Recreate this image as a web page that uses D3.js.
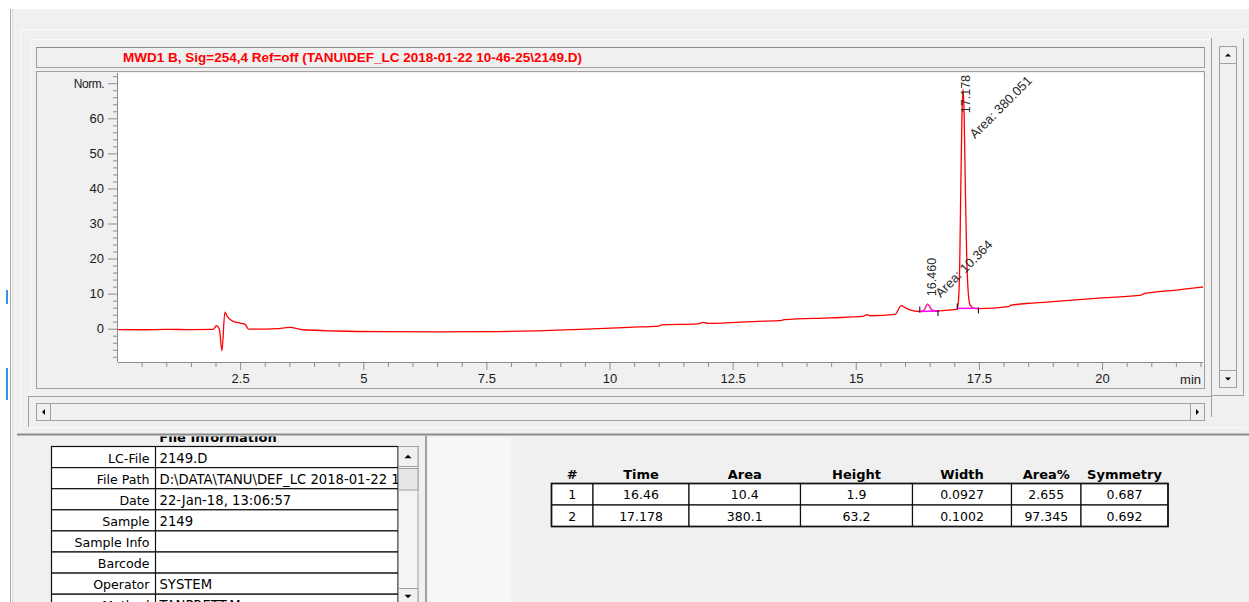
<!DOCTYPE html>
<html><head><meta charset="utf-8">
<script src="https://cdn.jsdelivr.net/npm/d3@7"></script>
<style>html,body{margin:0;padding:0;background:#fff;overflow:hidden}</style>
</head><body><svg id="c" width="1249" height="602"></svg>
<script>
// ---------------- DATA ----------------
const chartTitle = "MWD1 B, Sig=254,4 Ref=off (TANU\\DEF_LC 2018-01-22 10-46-25\\2149.D)";
// retention time (min) and signal (Norm.)
const timeMin = [0.02,0.5,1.0,1.5,1.95,2.02,2.08,2.13,2.19,2.24,2.29,2.36,2.43,2.52,2.60,2.67,3.0,3.24,3.51,3.78,4.46,5.34,6.5,7.5,8.5,9.4,10.4,11.0,11.05,11.8,11.9,12.0,13.0,13.5,13.55,14.5,15.15,15.22,15.3,15.8,15.92,16.0,16.1,16.3,16.38,16.46,16.55,16.67,16.9,17.06,17.09,17.11,17.13,17.155,17.178,17.20,17.225,17.25,17.28,17.32,17.4,17.5,18.1,18.15,19.0,20.0,20.8,20.85,21.5,22.05];
const signal  = [-0.25,-0.3,-0.2,-0.25,-0.2,0.85,-0.3,-6.3,4.7,3.5,2.7,2.1,1.8,1.5,1.25,-0.1,-0.1,0.0,0.4,-0.3,-0.65,-0.85,-0.9,-0.85,-0.6,-0.2,0.4,0.75,1.1,1.4,1.8,1.5,2.1,2.4,2.6,3.1,3.5,4.0,3.7,4.1,6.6,6.0,5.4,4.9,5.2,7.0,5.3,5.05,5.3,5.6,9,18,38,60,68.3,61,40,22,11,6.8,5.8,5.7,6.3,6.7,7.7,8.8,9.6,10.0,11.0,11.9];
// integrated peaks
const peakRT      = [16.460, 17.178];
const peakApex    = [7.0, 68.3];
const peakAreaTxt = ["10.364", "380.051"];
const intStartT   = [16.30, 17.06];
const intStartV   = [4.9, 5.8];
const intEndT     = [16.67, 17.49];
const intEndV     = [5.05, 5.8];
// axes
const xMajorTicks = [2.5, 5, 7.5, 10, 12.5, 15, 17.5, 20];
const yMajorTicks = [0, 10, 20, 30, 40, 50, 60, 70];
const yTopLabel = "Norm.";
const xUnitLabel = "min";
// file information
const infoLabels = ["LC-File","File Path","Date","Sample","Sample Info","Barcode","Operator","Method"];
const infoValues = ["2149.D","D:\\DATA\\TANU\\DEF_LC 2018-01-22 10-46-25","22-Jan-18, 13:06:57","2149","","","SYSTEM","TANPRETT.M"];
// peak table
const resHeaders  = ["#","Time","Area","Height","Width","Area%","Symmetry"];
const resNum      = ["1","2"];
const resTime     = ["16.46","17.178"];
const resArea     = ["10.4","380.1"];
const resHeight   = ["1.9","63.2"];
const resWidth    = ["0.0927","0.1002"];
const resAreaPct  = ["2.655","97.345"];
const resSym      = ["0.687","0.692"];

// ---------------- DRAW ----------------
const svg = d3.select("#c");
const G = "#a0a0a0";
function rect(x,y,w,h,fill,stroke,sw){return svg.append("rect").attr("x",x).attr("y",y).attr("width",w).attr("height",h)
  .attr("fill",fill||"none").attr("stroke",stroke||"none").attr("stroke-width",sw||1);}
function line(x1,y1,x2,y2,stroke,sw){return svg.append("line").attr("x1",x1).attr("y1",y1).attr("x2",x2).attr("y2",y2)
  .attr("stroke",stroke).attr("stroke-width",sw||1);}
function tri(cx,cy,dir,s){s=s||3;let p;
  if(dir==="up")p=[[cx-s,cy+s/2],[cx+s,cy+s/2],[cx,cy-s/2]];
  else if(dir==="down")p=[[cx-s,cy-s/2],[cx+s,cy-s/2],[cx,cy+s/2]];
  else if(dir==="left")p=[[cx+s/2,cy-s],[cx+s/2,cy+s],[cx-s/2,cy]];
  else p=[[cx-s/2,cy-s],[cx-s/2,cy+s],[cx+s/2,cy]];
  svg.append("polygon").attr("points",p.map(d=>d.join(",")).join(" ")).attr("fill","#000");}

// window chrome
rect(12,9,1237,593,"#f0f0f0");
line(10.5,9,10.5,602,"#a8a8a8");
line(12.5,9,12.5,602,"#d8d8d8");
rect(6,368,2,32,"#3c8ee0");
rect(6,290,2,14,"#3c8ee0");
line(20,29.5,1246,29.5,"#fcfcfd"); line(20.5,29,20.5,428,"#fcfcfd");
line(30,39.5,1212,39.5,"#fafafa"); line(30.5,39,30.5,396,"#fafafa");
// title box
rect(36.5,47.5,1168,20,"#f0f0f0",G);
line(36.5,47.5,1204.5,47.5,"#8a8a8a");
svg.append("text").attr("x",123).attr("y",61.5).attr("font-family","Liberation Sans, Arial, sans-serif")
  .attr("font-weight","bold").attr("font-size",13.5).attr("fill","#ff0000")
  .attr("textLength",459).attr("lengthAdjust","spacingAndGlyphs").text(chartTitle);
// plot frame
rect(36.5,71.5,1168,317,"#f0f0f0",G);
const L=118,R=1203,T=73,B=362;
rect(L,T,R-L,B-T,"#ffffff");

const x = d3.scaleLinear().domain([0.02,22.05]).range([L,R]);
const y = d3.scaleLinear().domain([0,60]).range([328.7,118.3]);

// axes
const axisCol="#8c8c8c";
const fontAx="Liberation Sans, Arial, sans-serif";
const xMinor = d3.range(0.5,22.01,0.5).filter(v=>Math.abs(v/2.5-Math.round(v/2.5))>1e-6);
const yMinor = d3.range(-8,73,2).filter(v=>v%10!==0);
function styleAxis(g){g.selectAll("path,line").attr("stroke",axisCol);g.selectAll("text").attr("fill","#1a1a1a")
  .attr("font-family",fontAx).attr("font-size",13);}
svg.append("g").attr("transform",`translate(0,${B})`)
  .call(d3.axisBottom(x).tickValues(xMinor).tickSize(5).tickSizeOuter(0).tickFormat(""))
  .call(styleAxis).call(g=>g.select(".domain").remove());
svg.append("g").attr("transform",`translate(0,${B})`)
  .call(d3.axisBottom(x).tickValues(xMajorTicks).tickSize(8).tickSizeOuter(0).tickPadding(4).tickFormat(d=>String(d)))
  .call(styleAxis).call(g=>g.select(".domain").attr("d",`M${L},0.5H${R}`));
svg.append("g").attr("transform",`translate(${L},0)`)
  .call(d3.axisLeft(y).tickValues(yMinor).tickSize(5).tickSizeOuter(0).tickFormat(""))
  .call(styleAxis).call(g=>g.select(".domain").remove());
const yAx = svg.append("g").attr("transform",`translate(${L},0)`)
  .call(d3.axisLeft(y).tickValues(yMajorTicks).tickSize(10).tickSizeOuter(0).tickPadding(4).tickFormat(d=>d===70?yTopLabel:String(d)))
  .call(styleAxis).call(g=>g.select(".domain").attr("d",`M-0.5,${T}V${B}`));
yAx.selectAll(".tick text").filter(d=>d===70).attr("font-size",12).attr("letter-spacing",-0.5);
svg.append("text").attr("x",1201).attr("y",383.5).attr("text-anchor","end").attr("font-family",fontAx)
  .attr("font-size",13).attr("fill","#1a1a1a").text(xUnitLabel);

// trace
svg.append("clipPath").attr("id","pc").append("rect").attr("x",L).attr("y",T).attr("width",R-L).attr("height",B-T);
const pts = timeMin.map((t,i)=>[t,signal[i]]);
const lg = d3.line().x(d=>x(d[0])).y(d=>y(d[1])).curve(d3.curveMonotoneX);
const gp = svg.append("g").attr("clip-path","url(#pc)");
gp.append("path").attr("d",lg(pts)).attr("fill","none").attr("stroke","#ff0000").attr("stroke-width",1.3);
// first peak drawn in magenta (integrated)
gp.append("path").attr("d",lg(pts.filter(d=>d[0]>=intStartT[0]&&d[0]<=intEndT[0])))
  .attr("fill","none").attr("stroke","#ff33cc").attr("stroke-width",1.2);
// integration baselines + ticks
peakRT.forEach((rt,i)=>{
  gp.append("line").attr("x1",x(intStartT[i])).attr("y1",y(intStartV[i])).attr("x2",x(intEndT[i])).attr("y2",y(intEndV[i]))
    .attr("stroke","#ff00ff").attr("stroke-width",1.5);
  gp.append("line").attr("x1",x(intStartT[i])).attr("x2",x(intStartT[i])).attr("y1",y(intStartV[i])-5).attr("y2",y(intStartV[i])+1)
    .attr("stroke","#000").attr("stroke-width",1);
  gp.append("line").attr("x1",x(intEndT[i])).attr("x2",x(intEndT[i])).attr("y1",y(intEndV[i])-1).attr("y2",y(intEndV[i])+5)
    .attr("stroke","#000").attr("stroke-width",1);
});
// annotations
const annCol="#2a2a2a";
const rtOff=[[8,-8],[7,24]], arOff=[[13,-6],[12,50]];
peakRT.forEach((rt,i)=>{
  const px=x(rt), py=y(peakApex[i]);
  svg.append("text").attr("transform",`translate(${px+rtOff[i][0]},${py+rtOff[i][1]}) rotate(-90)`)
    .attr("font-family",fontAx).attr("font-size",12.5).attr("fill",annCol).text(rt.toFixed(3));
  svg.append("text").attr("transform",`translate(${px+arOff[i][0]},${py+arOff[i][1]}) rotate(-45)`)
    .attr("font-family",fontAx).attr("font-size",13).attr("fill",annCol).text("Area: "+peakAreaTxt[i]);
});

// vertical scrollbar
line(1211.5,38,1211.5,417,G); line(1243.5,38,1243.5,396,G); line(1211,395.5,1244,395.5,G);
rect(1219.5,46.5,17,341,"#f0f0f0",G);
rect(1219.5,46.5,17,17,"#f0f0f0",G); tri(1228,55,"up",3);
rect(1219.5,370.5,17,17,"#f0f0f0",G); tri(1228,379,"down",3);
// horizontal scrollbar
line(28,396.5,1211,396.5,G); line(28.5,396,28.5,428,G); line(28,427.5,1246,427.5,"#fafafa");
rect(36.5,403.5,1168,17,"#f0f0f0",G);
rect(36.5,403.5,14,17,"#f0f0f0",G); tri(43.5,412,"left",3);
rect(1190.5,403.5,14,17,"#f0f0f0",G); tri(1197.5,412,"right",3);

// lower panel
rect(13,436,1236,166,"#f0f0f0");
rect(428,437,83,165,"#f7f7f7");
const fontT="DejaVu Sans, Verdana, sans-serif";
svg.append("clipPath").attr("id","hc").append("rect").attr("x",0).attr("y",436.5).attr("width",1249).attr("height",20);
svg.append("text").attr("x",218).attr("y",441.5).attr("text-anchor","middle").attr("font-family",fontT)
  .attr("font-weight","bold").attr("font-size",13).attr("fill","#000").attr("clip-path","url(#hc)").text("File Information");
line(17,434.5,1249,434.5,"#8a8a8a",2);
line(426,436,426,602,G,2);

// file info table
const tX0=51.5, tX1=155.5, tX2=398;
const rowY = infoLabels.map((d,i)=>446.5+i*21.1);
svg.append("clipPath").attr("id","fc").append("rect").attr("x",0).attr("y",436).attr("width",398).attr("height",166);
const ft = svg.append("g").attr("clip-path","url(#fc)");
infoLabels.forEach((lab,i)=>{
  const y0=rowY[i];
  ft.append("rect").attr("x",tX0).attr("y",y0).attr("width",tX2-tX0).attr("height",21.1).attr("fill","#fff")
    .attr("stroke","#111").attr("stroke-width",1.2);
  ft.append("line").attr("x1",tX1).attr("x2",tX1).attr("y1",y0).attr("y2",y0+21.1).attr("stroke","#111").attr("stroke-width",1.2);
  ft.append("text").attr("x",tX1-6).attr("y",y0+16).attr("text-anchor","end").attr("font-family",fontT).attr("font-size",12.6)
    .attr("fill","#000").text(lab);
  ft.append("text").attr("x",tX1+4).attr("y",y0+16).attr("font-family",fontT).attr("font-size",13.2)
    .attr("fill","#000").text(infoValues[i]);
});
// file info scrollbar
rect(398.5,446.5,19.5,160,"#f4f4f4",G);
rect(398.5,446.5,19.5,20,"#f0f0f0",G); tri(408,456.5,"up",3.5);
rect(398.5,468.5,19.5,21.5,"#e6e6e6",G);
rect(398.5,588.5,19.5,20,"#f0f0f0",G); tri(408,596.5,"down",3.5);

// peak result table
const cE=[551.5,593,689,800.5,912.5,1011.5,1081,1168];
const cols=[resNum,resTime,resArea,resHeight,resWidth,resAreaPct,resSym];
resHeaders.forEach((h,j)=>{
  svg.append("text").attr("x",(cE[j]+cE[j+1])/2).attr("y",478.5).attr("text-anchor","middle").attr("font-family",fontT)
    .attr("font-weight","bold").attr("font-size",13).attr("fill","#000").text(h);
});
const rY=[483.5,505,526.5];
resNum.forEach((r,i)=>{
  cols.forEach((c,j)=>{
    rect(cE[j],rY[i],cE[j+1]-cE[j],rY[i+1]-rY[i],"#fff","#111",1.2);
    svg.append("text").attr("x",(cE[j]+cE[j+1])/2).attr("y",rY[i]+15.5).attr("text-anchor","middle").attr("font-family",fontT)
      .attr("font-size",12.5).attr("fill","#000").text(c[i]);
  });
});
rect(cE[0],rY[0],cE[7]-cE[0],rY[2]-rY[0],"none","#111",1.6);
</script></body></html>
